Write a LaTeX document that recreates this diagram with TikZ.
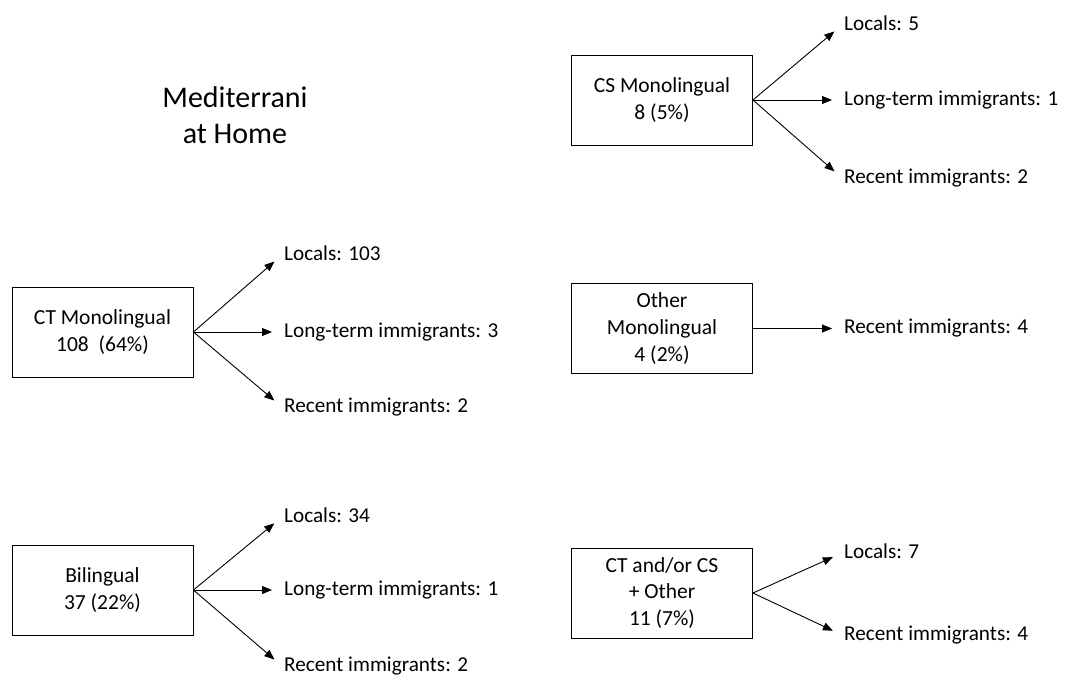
\documentclass[tikz,border=0pt]{standalone}
\usepackage{fontspec}
\setmainfont{Carlito}
\usetikzlibrary{arrows.meta,positioning}

\begin{document}
\begin{tikzpicture}[
  x=1pt, y=-1pt,
  font=\fontsize{21.2}{26.5}\selectfont,
  box/.style={draw, line width=0.9pt, align=center, minimum width=181pt,
              minimum height=90pt, inner sep=2pt,
              font=\fontsize{21.5}{26.8}\selectfont},
  lbl/.style={anchor=west, inner sep=2pt, text height=2.6ex, text depth=0.3ex},
  ttl/.style={align=center, font=\fontsize{30}{36}\selectfont},
  ar/.style={-{Triangle[length=10pt,width=8pt]}, line width=0.9pt,
             shorten >=10pt}]
\useasboundingbox (0,0) rectangle (1065,683);

\node[ttl] (title) at (235,115) {Mediterrani\\at Home};

% left column
\node[box] (ctm) at (102.5,332) {CT Monolingual\\108~~(64\%)};
\node[lbl] (ctmloc) at (282,255) {Locals: 103};
\node[lbl] (ctmlong) at (282,332) {Long-term immigrants: 3};
\node[lbl] (ctmrec) at (282,407) {Recent immigrants: 2};

\node[box] (bil) at (102.5,590) {Bilingual\\37 (22\%)};
\node[lbl] (billoc) at (282,517) {Locals: 34};
\node[lbl] (billong) at (282,590) {Long-term immigrants: 1};
\node[lbl] (bilrec) at (282,666) {Recent immigrants: 2};

% right column
\node[box] (csm) at (662,100) {CS Monolingual\\8 (5\%)};
\node[lbl] (csmloc) at (842,25) {Locals: 5};
\node[lbl] (csmlong) at (842,100) {Long-term immigrants: 1};
\node[lbl] (csmrec) at (842,178) {Recent immigrants: 2};

\node[box] (oth) at (662,328.5) {Other\\Monolingual\\4 (2\%)};
\node[lbl] (othrec) at (842,328.5) {Recent immigrants: 4};

\node[box] (mix) at (662,593) {CT and/or CS\\+ Other\\11 (7\%)};
\node[lbl] (mixloc) at (842,553) {Locals: 7};
\node[lbl] (mixrec) at (842,635) {Recent immigrants: 4};

\foreach \src/\dst in {ctm/ctmloc, ctm/ctmlong, ctm/ctmrec,
                       bil/billoc, bil/billong, bil/bilrec,
                       csm/csmloc, csm/csmlong, csm/csmrec,
                       oth/othrec, mix/mixloc, mix/mixrec}
  \draw[ar] (\src.east) -- (\dst.west);
\end{tikzpicture}
\end{document}
